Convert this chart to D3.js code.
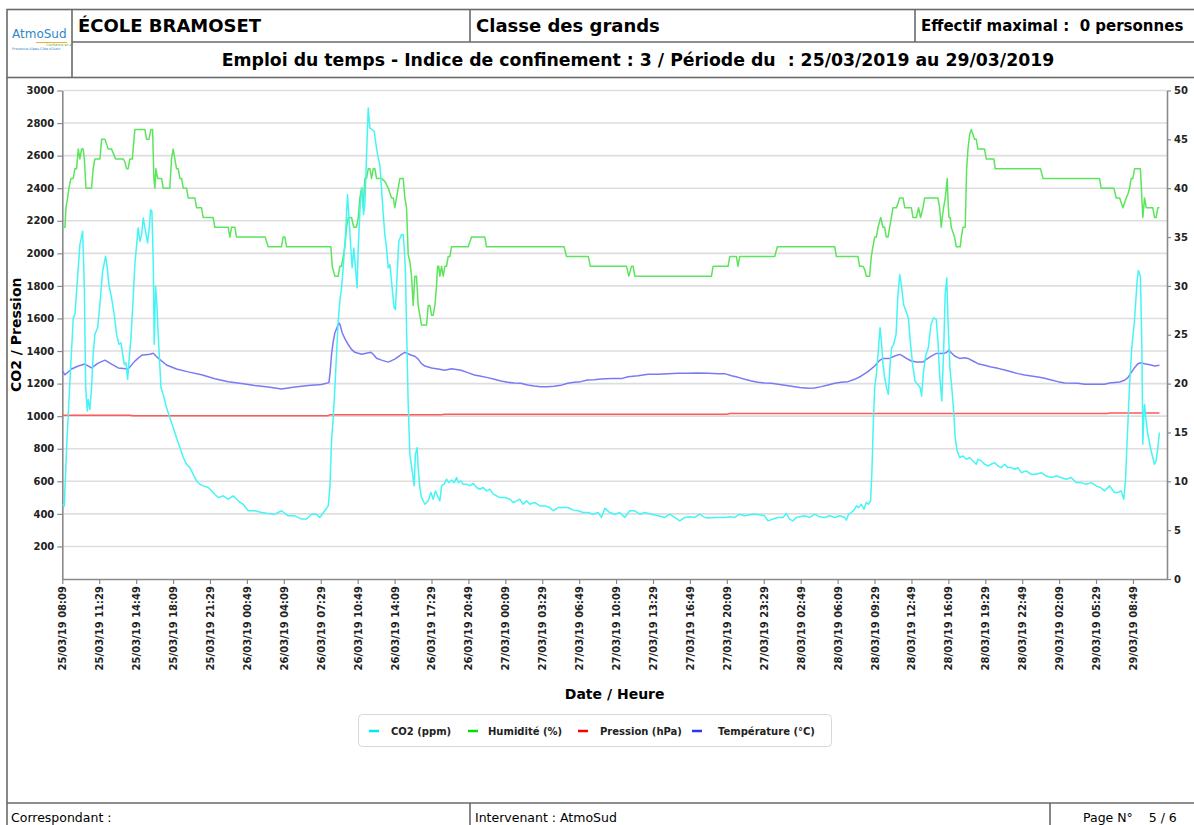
<!DOCTYPE html>
<html><head><meta charset="utf-8">
<script src="https://cdn.jsdelivr.net/npm/d3@7"></script>
<style>
body{margin:0;background:#fff;overflow:hidden;}
svg{display:block;}
text{font-family:"DejaVu Sans",Verdana,sans-serif;}
</style></head><body>
<svg id="c" width="1194" height="825"></svg>
<script>
// ---- data (hours since 25/03/2019 08:09, value) ----
const startTime = new Date(2019, 2, 25, 8, 9);
const endHours = 99.74;
const tickLabels = ["25/03/19 08:09","25/03/19 11:29","25/03/19 14:49","25/03/19 18:09","25/03/19 21:29",
 "26/03/19 00:49","26/03/19 04:09","26/03/19 07:29","26/03/19 10:49","26/03/19 14:09","26/03/19 17:29","26/03/19 20:49",
 "27/03/19 00:09","27/03/19 03:29","27/03/19 06:49","27/03/19 10:09","27/03/19 13:29","27/03/19 16:49","27/03/19 20:09","27/03/19 23:29",
 "28/03/19 02:49","28/03/19 06:09","28/03/19 09:29","28/03/19 12:49","28/03/19 16:09","28/03/19 19:29","28/03/19 22:49",
 "29/03/19 02:09","29/03/19 05:29","29/03/19 08:49"];
const tickStepMinutes = 200;
const leftTicks = [200,400,600,800,1000,1200,1400,1600,1800,2000,2200,2400,2600,2800,3000];
const rightTicks = [0,5,10,15,20,25,30,35,40,45,50];
const seriesNames = ["CO2 (ppm)","Humidité (%)","Pression (hPa)","Température (°C)"];
const seriesColors = ["#45f5f5","#5ce55c","#ff5a5a","#7a7af5"];
const legendColors = ["#00e8f0","#00dd00","#ff0000","#3030ff"];

const co2 = [[0,459],[0.18,449],[0.39,807],[0.69,1216],[0.99,1604],[1.14,1624],[1.29,1768],[1.44,1911],[1.59,2054],[1.84,2136],[1.99,1788],[2.11,1175],[2.26,1032],[2.34,1103],[2.49,1042],[2.64,1175],[2.79,1379],[2.94,1502],[3.19,1543],[3.40,1686],[3.64,1890],[3.91,1982],[4.06,1911],[4.21,1808],[4.45,1727],[4.69,1624],[4.90,1502],[5.11,1441],[5.30,1451],[5.45,1379],[5.60,1318],[5.75,1328],[5.90,1226],[6.02,1338],[6.20,1481],[6.40,1727],[6.55,1931],[6.85,2156],[7.01,2074],[7.16,2115],[7.31,2217],[7.46,2156],[7.70,2064],[7.85,2156],[7.97,2268],[8.09,2258],[8.21,1952],[8.30,1441],[8.42,1798],[8.54,1686],[8.66,1502],[8.91,1175],[9.11,1134],[9.41,1052],[9.71,991],[10.01,930],[10.31,868],[10.62,807],[10.92,746],[11.22,705],[11.52,684],[11.82,643],[12.12,603],[12.42,582],[12.72,572],[13.17,562],[13.62,531],[14.07,500],[14.53,511],[14.98,490],[15.43,511],[15.88,480],[16.33,459],[16.78,419],[17.38,419],[17.99,408],[18.59,402],[19.19,398],[19.79,419],[20.39,388],[21.00,388],[21.60,368],[22.05,368],[22.50,398],[22.95,398],[23.25,378],[23.70,419],[24.01,449],[24.16,562],[24.31,848],[24.46,991],[24.61,1175],[24.91,1584],[25.06,1706],[25.21,1788],[25.36,1911],[25.57,2115],[25.75,2360],[25.87,2238],[26.05,2033],[26.17,1911],[26.32,2033],[26.47,1911],[26.62,1788],[26.72,2033],[26.87,2258],[26.95,2340],[27.07,2401],[27.19,2238],[27.32,2299],[27.47,2606],[27.62,2892],[27.77,2770],[27.98,2759],[28.16,2749],[28.28,2687],[28.46,2606],[28.67,2544],[28.82,2401],[28.98,2238],[29.12,2115],[29.27,2033],[29.43,1911],[29.58,1931],[29.78,1788],[29.96,1665],[30.08,1655],[30.20,1829],[30.38,2074],[30.63,2115],[30.78,2115],[30.87,2033],[30.98,1890],[31.10,1481],[31.23,1073],[31.38,766],[31.59,664],[31.77,572],[31.88,766],[32.04,807],[32.13,684],[32.28,562],[32.43,500],[32.74,459],[33.04,480],[33.28,531],[33.49,490],[33.69,541],[33.88,511],[34.09,480],[34.24,572],[34.47,582],[34.69,613],[34.90,592],[35.14,607],[35.38,592],[35.60,623],[35.75,592],[35.98,603],[36.19,582],[36.50,582],[36.80,572],[37.10,587],[37.40,562],[37.70,551],[38.00,562],[38.30,541],[38.60,551],[38.90,521],[39.20,511],[39.50,500],[39.96,500],[40.41,490],[40.71,470],[41.01,480],[41.31,490],[41.61,459],[41.91,480],[42.21,459],[42.66,470],[43.11,449],[43.56,449],[44.02,439],[44.32,419],[44.77,439],[45.22,439],[45.67,439],[46.12,423],[46.57,419],[47.02,408],[47.47,408],[47.92,398],[48.38,408],[48.68,378],[48.98,435],[49.43,408],[49.88,398],[50.33,408],[50.78,378],[51.23,419],[51.68,419],[52.14,398],[52.59,408],[53.19,398],[53.79,388],[54.39,378],[54.84,398],[55.29,378],[55.75,357],[56.20,378],[56.65,382],[57.10,378],[57.55,398],[58.00,378],[58.45,374],[58.91,378],[59.36,378],[59.81,378],[60.26,382],[60.71,378],[61.16,398],[61.61,388],[62.06,394],[62.51,398],[62.97,394],[63.42,388],[63.72,357],[64.17,368],[64.62,378],[65.07,378],[65.37,402],[65.67,368],[65.97,357],[66.28,378],[66.58,382],[67.03,388],[67.48,378],[67.93,398],[68.38,382],[68.83,378],[69.28,388],[69.74,378],[70.19,388],[70.64,378],[70.79,361],[70.99,398],[71.24,408],[71.48,423],[71.69,449],[71.90,439],[72.14,459],[72.38,429],[72.59,470],[72.80,459],[72.98,480],[73.10,664],[73.23,970],[73.35,1175],[73.50,1257],[73.65,1379],[73.83,1543],[73.95,1461],[74.10,1318],[74.25,1236],[74.42,1175],[74.58,1134],[74.76,1338],[74.88,1420],[75.06,1441],[75.28,1502],[75.43,1727],[75.61,1870],[75.79,1788],[75.96,1686],[76.18,1645],[76.39,1604],[76.56,1461],[76.77,1318],[76.98,1216],[77.23,1195],[77.46,1175],[77.58,1124],[77.76,1277],[77.98,1379],[78.19,1420],[78.43,1563],[78.67,1604],[78.91,1594],[79.06,1461],[79.21,1257],[79.41,1093],[79.60,1461],[79.71,1747],[79.86,1849],[79.96,1604],[80.14,1298],[80.31,1175],[80.50,1011],[80.61,868],[80.80,786],[81.02,746],[81.32,756],[81.62,735],[81.92,746],[82.22,725],[82.52,705],[82.67,735],[82.97,725],[83.27,705],[83.57,694],[83.87,705],[84.17,715],[84.48,694],[84.78,684],[85.08,705],[85.38,684],[85.68,684],[85.98,674],[86.28,684],[86.58,653],[87.03,664],[87.48,643],[87.93,643],[88.39,653],[88.84,633],[89.29,623],[89.74,633],[90.19,623],[90.64,613],[91.09,623],[91.54,592],[91.99,592],[92.44,582],[92.90,592],[93.35,572],[93.73,562],[94.10,541],[94.55,572],[95.00,531],[95.30,531],[95.60,541],[95.84,490],[95.99,603],[96.14,848],[96.35,1175],[96.56,1420],[96.80,1584],[97.04,1829],[97.16,1894],[97.34,1859],[97.47,1420],[97.56,827],[97.64,991],[97.71,1073],[97.86,970],[98.01,889],[98.31,786],[98.61,705],[98.76,725],[98.91,807],[99.06,899]];

const humidite = [[0,36],[0.24,36],[0.33,38],[0.48,39],[0.60,40],[0.78,41],[0.99,41],[1.14,42],[1.29,42],[1.44,44],[1.59,43],[1.74,44],[1.89,44],[1.99,43],[2.14,40],[2.64,40],[2.79,42],[2.94,43],[3.40,43],[3.55,45],[3.85,45],[4.15,44],[4.45,44],[4.81,43],[5.50,43],[5.65,42.7],[5.80,42],[5.95,42],[6.10,43],[6.32,43],[6.55,46],[7.46,46],[7.61,45],[7.82,45],[8.00,46],[8.15,46],[8.27,41],[8.36,40],[8.45,42],[8.61,41],[8.96,41],[9.11,40],[9.71,40],[9.86,43],[10.01,44],[10.16,43],[10.31,42],[10.46,42],[10.62,41],[10.77,41],[10.92,40],[11.22,40],[11.37,39],[11.97,39],[12.12,38],[12.57,38],[12.72,37],[13.62,37],[13.77,36],[14.98,36],[15.13,35],[15.28,36],[15.58,36],[15.73,35],[18.32,35],[18.59,34],[19.79,34],[19.94,35],[20.09,35],[20.25,34],[24.25,34],[24.37,32],[24.61,31],[24.91,31],[25.06,32],[25.21,32],[25.36,33],[25.51,34],[25.66,36],[25.82,37],[26.11,37],[26.32,36],[26.56,36],[26.72,37],[26.87,39],[27.02,40],[27.16,38],[27.32,41],[27.47,41],[27.62,42],[27.77,42],[27.92,41],[28.07,42],[28.22,42],[28.37,41],[28.82,41],[29.12,40.7],[29.43,40],[29.73,39],[29.88,39],[30.02,38],[30.18,39],[30.33,40],[30.48,41],[30.78,41],[30.93,39],[31.08,38],[31.23,33.2],[31.38,32.5],[31.53,31],[31.68,28],[31.83,31],[31.98,31],[32.13,28],[32.28,27],[32.43,26],[32.89,26],[33.04,28],[33.19,28],[33.34,27],[33.49,27],[33.64,28],[33.79,30],[33.88,32],[33.99,32],[34.09,31],[34.24,32],[34.39,31],[34.54,32],[34.69,32],[34.84,33],[34.99,33],[35.14,34],[36.65,34],[36.95,35],[38.15,35],[38.30,34],[45.31,34],[45.53,33],[47.49,33],[47.68,32],[50.94,32],[51.15,31],[51.39,32],[51.54,32],[51.69,31],[58.61,31],[58.76,32],[60.11,32],[60.26,33],[60.86,33],[61.01,32],[61.16,33],[64.32,33],[64.56,34],[69.74,34],[69.89,33],[71.84,33],[71.99,32],[72.29,32],[72.44,31.7],[72.59,31],[72.89,31],[73.04,33],[73.19,34],[73.35,35],[73.50,35],[73.65,36],[73.89,37],[74.10,36],[74.25,36],[74.40,35],[74.55,35],[74.70,36],[74.85,37],[75.00,38],[75.31,38],[75.61,39],[75.91,39],[76.06,38],[76.66,38],[76.81,37],[77.11,37],[77.31,38],[77.49,37],[77.71,38],[77.86,39],[79.06,39],[79.21,38],[79.36,36],[79.45,37],[79.57,38],[79.72,39],[79.81,40],[79.90,41],[79.96,39],[80.05,37],[80.17,37],[80.26,36],[80.56,35],[80.72,34],[81.07,34],[81.17,35],[81.32,36],[81.52,36],[81.65,42],[81.77,44],[81.92,45.5],[82.07,46],[82.22,45.5],[82.37,45],[82.52,45],[82.67,44],[83.27,44],[83.42,43],[84.11,43],[84.22,42],[88.32,42],[88.54,41],[93.65,41],[93.80,40],[94.94,40],[95.16,39],[95.46,39],[95.76,38],[95.91,38.5],[96.06,39],[96.21,39.4],[96.36,40],[96.51,41],[96.66,41],[96.81,42],[97.34,42],[97.47,39],[97.56,37],[97.64,38],[97.71,39],[97.86,38],[98.46,38],[98.61,37],[98.76,37],[98.91,38],[99.06,38]];

const pression = [[0,1006],[6.10,1006],[6.38,1003],[24.01,1003],[24.19,1009],[34.23,1009],[34.51,1012],[60.01,1012],[60.29,1016],[94.33,1016],[94.61,1019],[99.06,1019]];

const temperature = [[0,21.3],[0.24,20.9],[0.84,21.5],[1.44,21.8],[2.04,22.0],[2.64,21.6],[3.24,22.1],[3.85,22.4],[4.45,22.0],[5.05,21.6],[5.95,21.5],[6.55,22.3],[7.16,22.9],[7.91,23.0],[8.21,23.1],[8.66,22.6],[9.41,21.9],[10.31,21.5],[11.37,21.2],[12.57,20.9],[13.77,20.5],[14.98,20.2],[16.18,20.0],[17.38,19.8],[18.59,19.65],[19.79,19.45],[21.00,19.65],[22.20,19.8],[23.40,19.9],[24.07,20.1],[24.18,21.1],[24.31,23.0],[24.46,24.3],[24.61,25.2],[24.97,26.2],[25.09,26.0],[25.27,25.2],[25.51,24.6],[25.82,24.0],[26.11,23.5],[26.42,23.2],[27.02,23.0],[27.86,23.2],[28.07,23.0],[28.37,22.6],[28.82,22.4],[29.43,22.2],[30.02,22.5],[30.63,23.0],[30.93,23.2],[31.53,22.9],[31.83,22.8],[32.13,22.5],[32.43,22.04],[32.74,21.8],[33.34,21.6],[33.94,21.5],[34.54,21.36],[35.14,21.53],[36.01,21.36],[36.61,21.12],[37.21,20.88],[37.81,20.75],[38.41,20.61],[39.00,20.44],[39.60,20.27],[40.20,20.13],[40.80,20.06],[41.41,20.03],[42.00,19.86],[42.60,19.76],[43.20,19.69],[43.80,19.69],[44.41,19.72],[45.01,19.82],[45.61,20.03],[46.22,20.13],[46.82,20.2],[47.42,20.37],[48.03,20.4],[48.63,20.47],[49.53,20.51],[50.48,20.51],[51.08,20.71],[51.99,20.81],[52.89,20.95],[53.79,20.95],[54.69,21.02],[55.60,21.05],[56.50,21.05],[57.40,21.08],[58.31,21.05],[59.21,21.02],[59.81,21.02],[60.42,20.81],[61.02,20.64],[61.62,20.44],[62.22,20.27],[62.82,20.13],[63.42,20.06],[64.03,20.03],[64.63,19.93],[65.23,19.82],[65.83,19.72],[66.58,19.6],[67.33,19.52],[67.93,19.55],[68.53,19.69],[69.13,19.86],[69.74,20.03],[70.34,20.13],[70.94,20.2],[71.54,20.44],[72.14,20.78],[72.74,21.22],[73.35,21.8],[73.80,22.38],[74.10,22.58],[74.70,22.58],[75.15,22.82],[75.61,22.99],[75.91,22.82],[76.21,22.58],[76.66,22.31],[77.11,22.21],[77.71,22.21],[78.01,22.48],[78.46,22.82],[78.91,23.09],[79.36,23.09],[79.81,23.16],[80.05,23.43],[80.26,23.16],[80.56,22.82],[81.02,22.58],[81.47,22.65],[81.77,22.58],[82.22,22.31],[82.67,22.04],[83.27,21.87],[83.87,21.7],[84.48,21.56],[85.08,21.39],[85.68,21.22],[86.28,21.02],[86.88,20.88],[87.48,20.78],[88.09,20.68],[88.69,20.54],[89.29,20.37],[89.89,20.2],[90.49,20.06],[91.70,20.03],[92.30,19.93],[94.10,19.93],[94.55,20.06],[95.46,20.17],[95.91,20.34],[96.21,20.61],[96.51,21.12],[96.81,21.63],[97.11,22.04],[97.41,22.14],[97.71,22.04],[98.31,21.9],[98.61,21.8],[99.06,21.87]];

// ---- layout ----
const svg = d3.select("#c");
const W = 1194, H = 825;
const plot = {left: 62.3, right: 1167, top: 90.5, bottom: 579};
const toDate = h => new Date(startTime.getTime() + h * 3600e3);

const x = d3.scaleTime().domain([startTime, toDate(endHours)]).range([plot.left, plot.right]);
const yL = d3.scaleLinear().domain([0, 3000]).range([plot.bottom, plot.top]);
const yR = d3.scaleLinear().domain([0, 50]).range([plot.bottom, plot.top]);

svg.append("rect").attr("width", W).attr("height", H).attr("fill", "#fff");

// ---- page frame / header ----
const frame = svg.append("g").attr("fill", "none").attr("stroke", "#6a6a6a").attr("stroke-width", 1.6);
frame.append("rect").attr("x", 7).attr("y", 9.5).attr("width", 1200).attr("height", 68);
frame.append("line").attr("x1", 72).attr("x2", 72).attr("y1", 9.5).attr("y2", 77.5);
frame.append("line").attr("x1", 72).attr("x2", 1200).attr("y1", 42).attr("y2", 42);
frame.append("line").attr("x1", 470).attr("x2", 470).attr("y1", 9.5).attr("y2", 42);
frame.append("line").attr("x1", 915).attr("x2", 915).attr("y1", 9.5).attr("y2", 42);
frame.append("line").attr("x1", 7).attr("x2", 7).attr("y1", 77.5).attr("y2", 825);
frame.append("line").attr("x1", 7).attr("x2", 1200).attr("y1", 803).attr("y2", 803);
frame.append("line").attr("x1", 470).attr("x2", 470).attr("y1", 803).attr("y2", 825);
frame.append("line").attr("x1", 1050).attr("x2", 1050).attr("y1", 803).attr("y2", 825);

// logo
const logo = svg.append("g");
logo.append("text").attr("x", 12).attr("y", 38).attr("font-size", 12).attr("fill", "#2f86c8")
  .attr("font-family", "Liberation Sans, Arial, sans-serif").text("AtmoSud");
logo.append("line").attr("x1", 36).attr("x2", 67).attr("y1", 42.5).attr("y2", 42.5).attr("stroke", "#f0b030").attr("stroke-width", 1);
logo.append("text").attr("x", 46).attr("y", 45.5).attr("font-size", 3.5).attr("fill", "#6aa84f").text("Confiance et air");
logo.append("text").attr("x", 12).attr("y", 50).attr("font-size", 3.5).attr("fill", "#2f86c8").text("Provence-Alpes-Côte d'Azur");

const hdr = svg.append("g").attr("font-weight", "bold").attr("fill", "#000");
hdr.append("text").attr("x", 78).attr("y", 32).attr("font-size", 18).text("ÉCOLE BRAMOSET");
hdr.append("text").attr("x", 476).attr("y", 32).attr("font-size", 18).text("Classe des grands");
hdr.append("text").attr("x", 921).attr("y", 31).attr("font-size", 15).attr("xml:space", "preserve").text("Effectif maximal :  0 personnes");
hdr.append("text").attr("x", 638).attr("y", 66).attr("font-size", 17.3).attr("text-anchor", "middle").attr("xml:space", "preserve")
  .text("Emploi du temps - Indice de confinement : 3 / Période du  : 25/03/2019 au 29/03/2019");

const ftr = svg.append("g").attr("font-size", 12.5).attr("fill", "#000")
  .style("font-family", "'Liberation Sans Narrow','DejaVu Sans Condensed',sans-serif");
ftr.append("text").attr("x", 11).attr("y", 822).text("Correspondant :");
ftr.append("text").attr("x", 475).attr("y", 822).text("Intervenant : AtmoSud");
ftr.append("text").attr("x", 1083).attr("y", 822).attr("xml:space", "preserve").text("Page N°    5 / 6");

// ---- gridlines ----
svg.append("g").selectAll("line").data(leftTicks).join("line")
  .attr("x1", plot.left).attr("x2", plot.right)
  .attr("y1", d => yL(d)).attr("y2", d => yL(d))
  .attr("stroke", "#dedede").attr("stroke-width", 1.6);

// ---- axes ----
const axisStyle = g => {
  g.select(".domain").attr("stroke", "#8a8a8a").attr("stroke-width", 1.6);
  g.selectAll(".tick line").attr("stroke", "#8a8a8a").attr("stroke-width", 1.2);
  g.selectAll(".tick text").attr("font-size", 10).attr("font-weight", "bold").attr("fill", "#222")
    .style("font-family", "'DejaVu Sans',Verdana,sans-serif");
};
svg.append("g").attr("transform", `translate(${plot.left},0)`)
  .call(d3.axisLeft(yL).tickValues(leftTicks).tickFormat(d3.format("d")).tickSize(5).tickSizeOuter(0).tickPadding(3))
  .call(axisStyle);
svg.append("g").attr("transform", `translate(${plot.right},0)`)
  .call(d3.axisRight(yR).tickValues(rightTicks).tickFormat(d3.format("d")).tickSize(4).tickSizeOuter(0).tickPadding(3))
  .call(axisStyle);
const tickDates = tickLabels.map((_, i) => new Date(startTime.getTime() + i * tickStepMinutes * 60e3));
const xa = svg.append("g").attr("transform", `translate(0,${plot.bottom})`)
  .call(d3.axisBottom(x).tickValues(tickDates).tickFormat((d, i) => tickLabels[i]).tickSize(5).tickSizeOuter(0))
  .call(axisStyle);
xa.selectAll(".tick text").attr("transform", "rotate(-90)").attr("text-anchor", "end")
  .attr("x", -7).attr("y", 0).attr("dy", "0.35em");

// ---- axis titles ----
svg.append("text").attr("transform", `translate(21,${(plot.top + plot.bottom) / 2}) rotate(-90)`)
  .attr("text-anchor", "middle").attr("font-size", 14).attr("font-weight", "bold").text("CO2 / Pression");
svg.append("text").attr("x", (plot.left + plot.right) / 2).attr("y", 699)
  .attr("text-anchor", "middle").attr("font-size", 14).attr("font-weight", "bold").text("Date / Heure");

// ---- lines ----
const lineL = d3.line().x(d => x(toDate(d[0]))).y(d => yL(d[1]));
const lineR = d3.line().x(d => x(toDate(d[0]))).y(d => yR(d[1]));
const lines = svg.append("g").attr("fill", "none").attr("stroke-width", 1.5).attr("stroke-linejoin", "round");
lines.append("path").datum(pression).attr("d", lineL).attr("stroke", seriesColors[2]);
lines.append("path").datum(temperature).attr("d", lineR).attr("stroke", seriesColors[3]);
lines.append("path").datum(humidite).attr("d", lineR).attr("stroke", seriesColors[1]);
lines.append("path").datum(co2).attr("d", lineL).attr("stroke", seriesColors[0]);

// ---- legend ----
const lg = svg.append("g");
lg.append("rect").attr("x", 358.5).attr("y", 714.5).attr("width", 473).attr("height", 32).attr("rx", 4)
  .attr("fill", "#fff").attr("stroke", "#d8d8d8");
const legendX = [369, 468, 578, 692];
const item = lg.selectAll("g.item").data(seriesNames).join("g").attr("class", "item")
  .attr("transform", (d, i) => `translate(${legendX[i]},731)`);
item.append("line").attr("x1", 0).attr("x2", 10).attr("stroke", (d, i) => legendColors[i]).attr("stroke-width", 2.5);
item.append("text").attr("x", (d, i) => [22, 20, 22, 26][i]).attr("dy", "0.35em").attr("font-size", 10)
  .attr("font-weight", "bold").attr("fill", "#222").text(d => d);
</script>
</body></html>
